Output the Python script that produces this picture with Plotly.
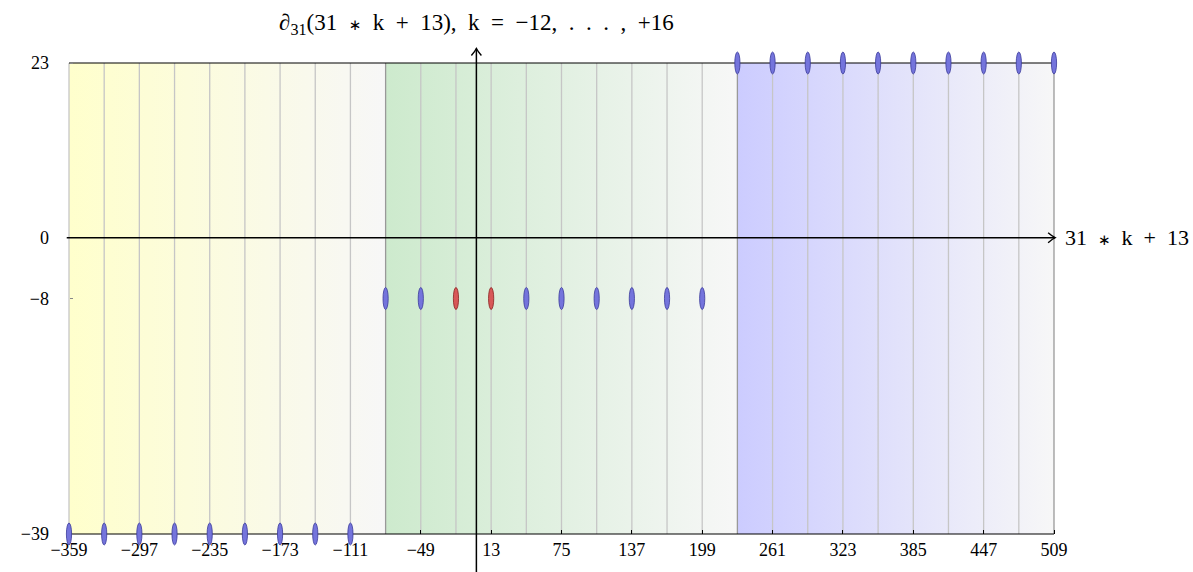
import plotly.graph_objects as go

# ---------------- data ----------------
k_values = list(range(-12, 17))
x_values = [-359, -328, -297, -266, -235, -204, -173, -142, -111,
            -80, -49, -18, 13, 44, 75, 106, 137, 168, 199,
            230, 261, 292, 323, 354, 385, 416, 447, 478, 509]
y_values = [-39, -39, -39, -39, -39, -39, -39, -39, -39,
            -8, -8, -8, -8, -8, -8, -8, -8, -8, -8,
            23, 23, 23, 23, 23, 23, 23, 23, 23, 23]
highlight_x = [-18, 13]
x_tick_vals = [-359, -297, -235, -173, -111, -49, 13, 75, 137, 199,
               261, 323, 385, 447, 509]
y_tick_vals = [23, 0, -8, -39]
region_colors = ["#ffffcc", "#cdeacd", "#ccccff"]
fade_color = "#f7f7f7"

SP = "\u2002"      # en space (TeX-like operator spacing)
AST = '<span style="font-family:DejaVu Sans;font-size:15px">\u2217</span>'
x_label = f"31{SP}{AST}{SP}k{SP}+{SP}13"
y_label = (f"∂<sub>31</sub>(31{SP}{AST}{SP}k{SP}+{SP}13),{SP}k{SP}={SP}"
           f"−12,{SP}.{SP}.{SP}.{SP},{SP}+16")

# ---------------- geometry ----------------
W, H = 1193, 572
px_left, px_right, px_top, px_bottom = 69, 1054, 63, 534
xmin, xmax = min(x_values), max(x_values)
ymin, ymax = min(y_values), max(y_values)
sx = (px_right - px_left) / (xmax - xmin)
sy = (px_bottom - px_top) / (ymax - ymin)
xr = [xmin - px_left / sx, xmax + (W - px_right) / sx]
yr = [ymin - (H - px_bottom) / sy, ymax + px_top / sy]
x_tip = xmax + 1.0
y_tip = ymax + 1.9

FONT = "Liberation Serif"

fig = go.Figure()

# groups of consecutive equal y
groups = []
for x, y in zip(x_values, y_values):
    if groups and groups[-1]["y"] == y:
        groups[-1]["xs"].append(x)
    else:
        groups.append({"y": y, "xs": [x]})

# region fills with gradients
for i, g in enumerate(groups):
    xs0 = g["xs"][0]
    xe0 = groups[i + 1]["xs"][0] if i + 1 < len(groups) else g["xs"][-1]
    fig.add_trace(go.Scatter(
        x=[xs0, xe0, xe0, xs0, xs0], y=[ymin, ymin, ymax, ymax, ymin],
        mode="lines", fill="toself", line=dict(width=0),
        fillgradient=dict(type="horizontal",
                          colorscale=[[0, region_colors[i]], [1, fade_color]]),
        hoverinfo="skip", showlegend=False))

# vertical grid lines
boundary = set(g["xs"][0] for g in groups[1:]) | {xmax}
lx, ly, bx, by = [], [], [], []
for x in x_values:
    if x in boundary:
        bx += [x, x, None]; by += [ymin, ymax, None]
    else:
        lx += [x, x, None]; ly += [ymin, ymax, None]
fig.add_trace(go.Scatter(x=lx, y=ly, mode="lines",
                         line=dict(color="#c6c6c6", width=1.3),
                         hoverinfo="skip", showlegend=False))
fig.add_trace(go.Scatter(x=bx, y=by, mode="lines",
                         line=dict(color="#999999", width=1.3),
                         hoverinfo="skip", showlegend=False))

# frame top / bottom
fig.add_trace(go.Scatter(x=[xmin, xmax, None, xmin, xmax],
                         y=[ymax, ymax, None, ymin, ymin], mode="lines",
                         line=dict(color="black", width=1.2),
                         hoverinfo="skip", showlegend=False))

# invisible hover points
fig.add_trace(go.Scatter(x=x_values, y=y_values, mode="markers",
                         marker=dict(size=8, opacity=0),
                         customdata=k_values,
                         hovertemplate="k=%{customdata}<br>x=%{x}<br>y=%{y}<extra></extra>",
                         showlegend=False))

shapes = []
# axis lines
shapes.append(dict(type="line", xref="x", yref="y", x0=xmin - 2, x1=x_tip,
                   y0=0, y1=0, line=dict(color="black", width=1.5), layer="above"))
shapes.append(dict(type="line", xref="x", yref="y", x0=0, x1=0,
                   y0=yr[0], y1=y_tip, line=dict(color="black", width=1.5), layer="above"))
# arrow heads (pixel-sized paths anchored at the tips)
shapes.append(dict(type="path", xref="x", yref="y", xsizemode="pixel", ysizemode="pixel",
                   xanchor=x_tip, yanchor=0,
                   path="M -7,-5 Q -2.5,-1.2 0,0 Q -2.5,1.2 -7,5",
                   line=dict(color="black", width=1.4), fillcolor="rgba(0,0,0,0)",
                   layer="above"))
shapes.append(dict(type="path", xref="x", yref="y", xsizemode="pixel", ysizemode="pixel",
                   xanchor=0, yanchor=y_tip,
                   path="M -5,-7 Q -1.2,-2.5 0,0 Q 1.2,-2.5 5,-7",
                   line=dict(color="black", width=1.4), fillcolor="rgba(0,0,0,0)",
                   layer="above"))

# marker ellipses
for x, y in zip(x_values, y_values):
    red = x in highlight_x
    shapes.append(dict(type="circle", xref="x", yref="y",
                       xsizemode="pixel", ysizemode="pixel",
                       xanchor=x, yanchor=y, x0=-2.6, x1=2.6, y0=-11, y1=11,
                       fillcolor="#d85858" if red else "#7474dc",
                       line=dict(color="#8a2020" if red else "#3a3a9a", width=0.8),
                       layer="above"))
fig.update_layout(shapes=shapes)

# axis labels
fig.add_annotation(x=xmax, y=0, xref="x", yref="y", text=x_label,
                   showarrow=False, xanchor="left", xshift=9,
                   font=dict(family=FONT, size=22, color="black"))
fig.add_annotation(x=0, y=1 - 24 / H, xref="x", yref="paper", text=y_label,
                   showarrow=False, xanchor="center", yanchor="middle",
                   font=dict(family=FONT, size=23, color="black"))

fig.update_layout(
    width=W, height=H, margin=dict(l=0, r=0, t=0, b=0),
    paper_bgcolor="white", plot_bgcolor="white",
    xaxis=dict(range=xr, domain=[0, 1], showgrid=False, zeroline=False,
               showline=False, tickvals=x_tick_vals, ticks="inside",
               ticklen=4, tickwidth=1, tickcolor="black",
               anchor="free", position=(H - px_bottom) / H,
               tickfont=dict(family=FONT, size=18, color="black"),
               ticklabelstandoff=3, automargin=False),
    yaxis=dict(range=yr, domain=[0, 1], showgrid=False, zeroline=False,
               showline=False, tickvals=y_tick_vals, ticks="inside",
               ticklen=3, tickwidth=1, tickcolor="#888888",
               anchor="free", position=px_left / W,
               tickfont=dict(family=FONT, size=18, color="black"),
               ticklabelstandoff=20, automargin=False),
    showlegend=False,
)

fig.write_html("out.html")
